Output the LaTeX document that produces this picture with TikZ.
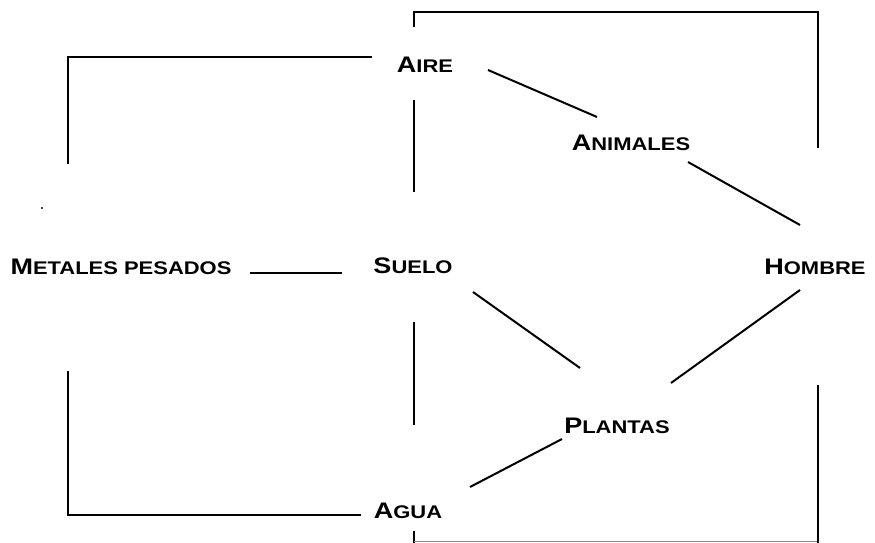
\documentclass[tikz,border=0pt]{standalone}
\usepackage{fontspec}
\setmainfont{Liberation Sans}[FakeStretch=1.2]
\newcommand\fsc[2]{{\fontsize{22.5}{22.5}\selectfont #1}{\fontsize{18.3}{18.3}\selectfont #2}}
\begin{document}
\begin{tikzpicture}[x=1pt,y=-1pt,
  lbl/.style={inner sep=0pt, anchor=base, font=\bfseries},
  conn/.style={line width=2pt, black},
  faint/.style={line width=1pt, black!45}]
\useasboundingbox (0,0) rectangle (875,543);
% nodes
\node[lbl] (metales)  at (121,274) {\fsc{M}{ETALES PESADOS}};
\node[lbl] (aire)     at (425,72)  {\fsc{A}{IRE}};
\node[lbl] (animales) at (631,150) {\fsc{A}{NIMALES}};
\node[lbl] (suelo)    at (413,273) {\fsc{S}{UELO}};
\node[lbl] (hombre)   at (815,274) {\fsc{H}{OMBRE}};
\node[lbl] (plantas)  at (617,433) {\fsc{P}{LANTAS}};
\node[lbl] (agua)     at (408,518) {\fsc{A}{GUA}};
% connector end points
\coordinate (tl1) at (414,27);  \coordinate (tl2) at (414,12);
\coordinate (tr1) at (818,12);  \coordinate (tr2) at (818,148);
\coordinate (al1) at (372,57);  \coordinate (al2) at (68,57);  \coordinate (al3) at (68,164);
\coordinate (as1) at (414,100); \coordinate (as2) at (414,192);
\coordinate (aa1) at (488,70);  \coordinate (aa2) at (597,117);
\coordinate (ah1) at (688,162); \coordinate (ah2) at (800,225);
\coordinate (ms1) at (250,273); \coordinate (ms2) at (342,273);
\coordinate (sp1) at (473,292); \coordinate (sp2) at (580,368);
\coordinate (hp1) at (800,290); \coordinate (hp2) at (671,383);
\coordinate (sa1) at (414,322); \coordinate (sa2) at (414,425);
\coordinate (pa1) at (562,439); \coordinate (pa2) at (470,487);
\coordinate (bl1) at (68,371);  \coordinate (bl2) at (68,515);  \coordinate (bl3) at (361,515);
\coordinate (bb1) at (414,531); \coordinate (bb2) at (414,543);
\coordinate (bf1) at (414,541); \coordinate (bf2) at (818,541);
\coordinate (rr1) at (818,385); \coordinate (rr2) at (818,543);
% connectors
\draw[conn] (tl1) -- (tl2) -- (tr1) -- (tr2);
\draw[conn] (al1) -- (al2) -- (al3);
\draw[conn] (as1) -- (as2);
\draw[conn] (aa1) -- (aa2);
\draw[conn] (ah1) -- (ah2);
\draw[conn] (ms1) -- (ms2);
\draw[conn] (sp1) -- (sp2);
\draw[conn] (hp1) -- (hp2);
\draw[conn] (sa1) -- (sa2);
\draw[conn] (pa1) -- (pa2);
\draw[conn] (bl1) -- (bl2) -- (bl3);
\draw[conn] (bb1) -- (bb2);
\draw[faint] (bf1) -- (bf2);
\draw[conn] (rr1) -- (rr2);
\fill (42,208) circle (1.2pt);
\end{tikzpicture}
\end{document}
